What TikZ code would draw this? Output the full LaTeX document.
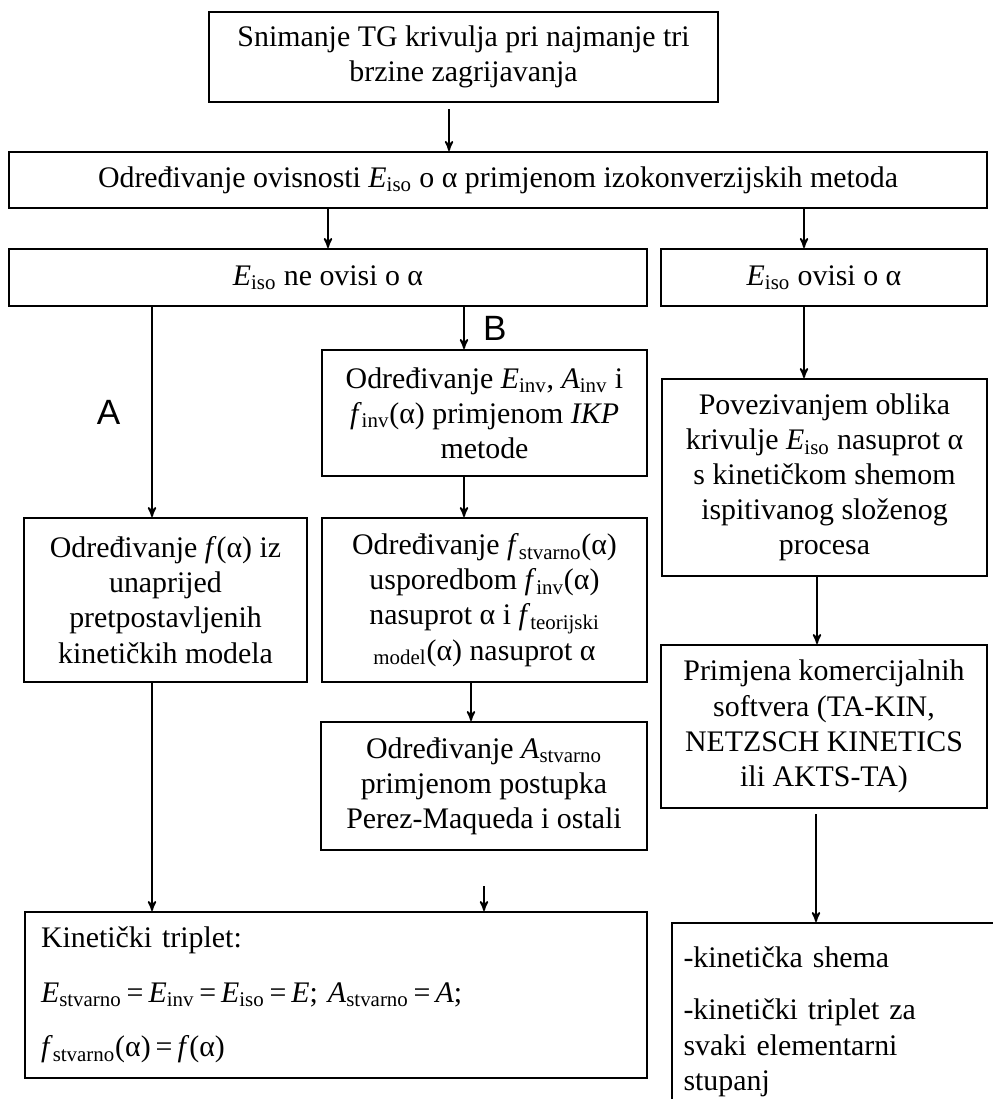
\documentclass[tikz,border=0pt]{standalone}
\usepackage{fontspec}
\setmainfont{Liberation Serif}
\newfontfamily\labelfont{Liberation Sans}
\usetikzlibrary{arrows,positioning}
\newcommand{\idx}[1]{\textsubscript{#1}}
\newcommand{\Eiso}{\textit{E}\idx{iso}}
\tikzset{
    >=stealth',
    korak/.style={
        rectangle,
        draw=black, line width=1.2pt,
        align=center,
        inner sep=2pt,
        font=\fontsize{17}{20}\selectfont
    },
    strelica/.style={draw, line width=1pt, ->},
    slovo/.style={font=\labelfont\fontsize{20}{24}\selectfont}
}
\begin{document}
\begin{tikzpicture}[x=0.02cm, y=-0.02cm]
                            \useasboundingbox (0,0) rectangle (992,1099);

                            \node[korak, minimum width=10.18cm, minimum height=1.8cm] (snim) at (463.5,57)
                                {Snimanje TG krivulja pri najmanje tri\\ brzine zagrijavanja};
                            \node[korak, minimum width=19.56cm, minimum height=1.12cm] (odr) at (498,180)
                                {Određivanje ovisnosti \Eiso{} o α primjenom izokonverzijskih metoda};
                            \node[korak, minimum width=12.76cm, minimum height=1.14cm] (ne) at (328,277.5)
                                {\Eiso{} ne ovisi o α};
                            \node[korak, minimum width=6.52cm, minimum height=1.14cm] (ovisi) at (824,277.5)
                                {\Eiso{} ovisi o α};

                            \node[korak, minimum width=6.5cm, minimum height=2.52cm] (ikp) at (484.5,413)
                                {Određivanje \textit{E}\idx{inv}, \textit{A}\idx{inv} i\\
                                 \textit{f}\idx{inv}(α) primjenom \textit{IKP}\\ metode};
                            \node[korak, minimum width=5.66cm, minimum height=3.28cm] (fal) at (165.5,600)
                                {Određivanje \textit{f}(α) iz\\ unaprijed\\ pretpostavljenih\\ kinetičkih modela};
                            \node[korak, minimum width=6.5cm, minimum height=3.28cm] (fstv) at (484.5,600)
                                {Određivanje \textit{f}\idx{stvarno}(α)\\ usporedbom \textit{f}\idx{inv}(α)\\
                                 nasuprot α i \textit{f}\idx{teorijski}\\ \idx{model}(α) nasuprot α};
                            \node[korak, minimum width=6.52cm, minimum height=2.56cm] (astv) at (484,786)
                                {Određivanje \textit{A}\idx{stvarno}\\ primjenom postupka\\ Perez-Maqueda i ostali};
                            \node[korak, align=left, text width=11.8cm, minimum width=12.44cm, minimum height=3.32cm] (trip) at (336,995)
                                {Kinetički triplet:\\[11pt]
                                 \textit{E}\idx{stvarno}\,=\,\textit{E}\idx{inv}\,=\,\Eiso{}\,=\,\textit{E}; \textit{A}\idx{stvarno}\,=\,\textit{A};\\[11pt]
                                 \textit{f}\idx{stvarno}(α)\,=\,\textit{f}(α)};

                            \node[korak, minimum width=6.5cm, minimum height=3.94cm] (pov) at (824.5,477.5)
                                {Povezivanjem oblika\\ krivulje \Eiso{} nasuprot α\\ s kinetičkom shemom\\
                                 ispitivanog složenog\\ procesa};
                            \node[korak, minimum width=6.52cm, minimum height=3.26cm] (prim) at (824,726.5)
                                {Primjena komercijalnih\\ softvera (TA-KIN,\\ NETZSCH KINETICS\\ ili AKTS-TA)};
                            \node[korak, align=left, text width=6.3cm, minimum width=6.76cm, minimum height=3.94cm] (rez) at (841,1021.5)
                                {-kinetička shema\\[10pt] -kinetički triplet za\\ svaki elementarni\\ stupanj};

                            \coordinate (s1) at ([xshift=-0.29cm]snim.south);
                            \coordinate (s2) at ([xshift=-0.4cm]ovisi.north);
                            \coordinate (s3) at ([xshift=-0.27cm]fal.north);
                            \coordinate (s4) at ([xshift=-0.41cm]ikp.north);
                            \coordinate (s5) at ([xshift=-0.27cm]fstv.south);
                            \coordinate (s6) at ([xshift=-0.15cm]pov.south);
                            \coordinate (s7) at ([xshift=-0.16cm]prim.south);

                            \draw[strelica, shorten <=0.12cm] (s1) -- (s1 |- odr.north);
                            \draw[strelica] (odr.south -| ne.north) -- (ne.north);
                            \draw[strelica] (odr.south -| s2) -- (s2);
                            \draw[strelica] (ne.south -| s3) -- (s3) node[slovo, midway, left=0.5cm] {A};
                            \draw[strelica] (ne.south -| s4) -- (s4) node[slovo, midway, right=0.25cm] {B};
                            \draw[strelica] (ikp.south -| s4) -- (fstv.north -| s4);
                            \draw[strelica] (s5) -- (s5 |- astv.north);
                            \draw[strelica] (fal.south -| s3) -- (trip.north -| s3);
                            \draw[strelica, shorten <=0.7cm] (astv.south) -- (astv.south |- trip.north);
                            \draw[strelica] (ovisi.south -| s2) -- (pov.north -| s2);
                            \draw[strelica] (s6) -- (s6 |- prim.north);
                            \draw[strelica, shorten <=0.1cm] (s7) -- (s7 |- rez.north);

                        \end{tikzpicture}
\end{document}
